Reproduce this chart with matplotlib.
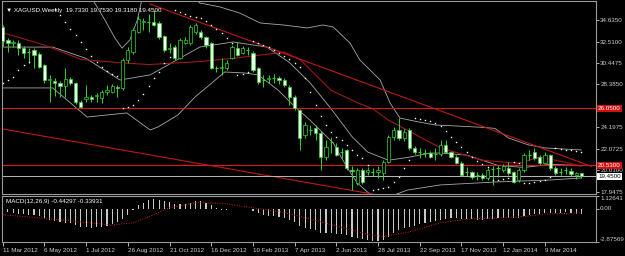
import matplotlib
matplotlib.use('Agg')
import matplotlib.pyplot as plt
import matplotlib.transforms as mtransforms
import numpy as np

# ---------------- data (weekly XAGUSD, bar index 0 = 11 Mar 2012) ----------------
opens = [33.95,32.69,32.35,32.40,31.91,31.50,31.72,31.33,30.26,28.80,
         28.71,28.51,28.22,28.90,28.51,26.66,26.96,27.15,27.20,27.05,
         27.64,27.64,28.12,28.03,30.75,31.52,33.47,34.44,34.50,34.44,
         34.35,33.08,31.80,32.01,30.94,32.40,32.40,33.47,33.47,32.98,
         32.40,29.97,30.00,29.97,30.94,31.91,31.43,31.72,31.43,29.97,
         28.80,28.85,28.95,29.00,28.80,28.12,27.15,25.89,23.46,23.94,
         24.14,23.65,21.32,22.78,22.29,21.80,22.00,20.10,18.79,20.05,
         19.86,19.90,19.90,19.76,20.83,23.26,23.94,23.17,23.94,22.19,
         21.80,21.75,21.71,21.55,21.60,22.49,21.80,21.32,20.74,19.90,
         19.86,19.50,19.57,19.28,20.10,20.20,20.05,20.25,19.86,19.08,
         20.05,21.50,21.80,21.32,20.74,21.51,20.25,19.86,20.00,20.00,
         19.60,19.733]
highs = [34.15,32.90,32.70,32.70,32.10,31.90,31.90,31.50,30.40,29.30,
         29.00,28.70,30.00,29.10,28.60,26.86,28.30,27.30,27.54,27.83,
         28.32,28.40,28.32,30.94,32.00,33.90,35.12,34.83,35.22,35.60,
         34.50,33.20,32.40,32.20,32.90,33.00,34.10,34.35,33.70,33.10,
         32.50,30.16,30.94,30.75,32.20,32.50,32.10,32.00,31.60,30.10,
         29.29,29.30,29.40,29.20,29.00,28.30,27.30,26.00,24.72,24.43,
         24.43,23.80,22.97,23.26,22.68,22.19,22.10,20.44,20.25,20.20,
         20.30,20.25,20.44,21.00,23.46,24.24,25.11,24.00,24.10,22.40,
         22.19,22.10,21.90,22.19,22.97,23.00,21.90,21.50,20.90,20.30,
         20.00,19.86,19.80,20.20,20.40,20.50,20.60,20.80,20.00,20.20,
         21.70,22.00,22.19,21.50,21.80,21.60,20.40,20.20,20.30,20.20,
         19.90,19.753]
lows = [32.10,31.50,32.00,31.20,30.90,30.50,30.00,29.97,28.50,26.70,
        27.20,27.15,27.15,28.30,26.50,26.08,26.66,26.70,26.66,26.57,
        27.35,27.50,27.15,27.83,30.50,31.30,33.37,33.66,33.47,34.05,
        32.80,31.50,31.40,30.75,30.80,32.30,32.20,33.30,32.80,31.90,
        29.90,29.58,29.29,29.80,30.80,31.10,31.30,31.23,29.60,28.40,
        28.12,28.50,28.50,28.40,28.10,26.40,25.89,22.00,23.17,23.46,
        22.97,20.05,21.03,21.71,21.40,21.22,20.05,18.11,18.60,18.69,
        19.60,19.47,19.28,19.08,20.70,22.97,23.00,22.90,22.00,21.60,
        21.22,21.30,21.20,21.03,21.40,21.70,21.20,20.60,19.50,19.50,
        19.20,19.08,19.10,19.10,18.60,19.40,19.90,19.60,18.79,18.90,
        19.90,21.00,21.00,20.50,20.60,20.10,19.60,19.60,19.70,19.50,
        19.20,19.318]
closes = [32.60,32.40,32.45,31.91,31.43,31.55,31.23,30.07,28.80,28.90,
          28.51,28.22,28.90,28.51,26.66,26.18,27.15,26.96,27.30,27.64,
          27.83,28.22,28.03,30.75,31.72,33.66,34.73,34.50,34.45,34.15,
          32.98,31.72,31.95,30.94,32.69,32.69,33.95,34.15,32.98,32.20,
          29.97,30.00,30.07,30.46,32.01,31.23,31.91,31.75,29.78,28.61,
          28.85,28.95,29.00,28.80,28.32,27.15,26.08,23.17,24.43,24.00,
          23.65,21.32,22.29,22.75,21.51,21.75,20.25,20.00,20.05,18.89,
          20.05,19.86,20.05,20.83,23.26,23.94,23.17,23.75,22.19,21.80,
          21.85,21.71,21.32,21.60,22.49,21.80,21.32,20.74,19.57,19.86,
          19.37,19.55,19.28,20.05,20.15,20.25,20.44,19.76,18.89,20.05,
          21.51,21.45,21.22,20.74,21.51,20.25,19.76,19.90,20.05,19.67,
          19.73,19.45]

# parabolic SAR dots (nan = no dot visible)
nan = float('nan')
sar = [28.50,28.80,29.10,29.80,30.26,30.55,nan,nan,nan,nan,
       35.70,35.12,34.44,33.76,33.18,32.50,31.80,31.14,30.55,30.07,
       29.68,29.39,29.19,26.08,26.18,26.37,26.86,27.44,28.22,29.00,
       29.58,30.46,31.00,35.60,35.41,35.22,35.02,34.93,34.83,34.54,
       34.15,33.76,33.37,32.89,32.40,29.29,29.40,29.60,32.60,32.40,
       32.20,32.00,31.70,31.40,31.10,30.80,30.50,30.07,29.00,27.64,
       26.40,25.30,24.40,23.70,23.26,22.97,22.49,22.00,21.50,21.20,
       20.54,18.11,18.20,18.30,18.40,18.90,19.40,20.20,21.00,25.11,
       25.00,24.90,24.80,24.60,24.30,23.80,23.26,22.78,22.29,21.80,
       21.30,20.90,20.60,20.35,19.08,19.10,19.15,19.25,20.80,20.75,
       18.79,18.80,18.85,18.95,19.10,19.35,22.19,22.10,22.00,21.95,
       21.90,21.80]

macd_hist = [-0.25,-0.30,-0.35,-0.40,-0.45,-0.50,-0.55,-0.65,-0.80,-0.95,
             -1.05,-1.15,-1.20,-1.25,-1.40,-1.55,-1.60,-1.62,-1.60,-1.55,
             -1.45,-1.30,-1.15,-0.85,-0.50,-0.10,0.30,0.55,0.75,0.85,
             0.82,0.70,0.60,0.45,0.45,0.45,0.55,0.65,0.65,0.55,
             0.30,0.10,-0.05,-0.10,0.00,0.00,0.00,0.00,-0.15,-0.35,
             -0.50,-0.60,-0.65,-0.70,-0.80,-0.95,-1.15,-1.50,-1.65,-1.75,
             -1.85,-2.05,-2.10,-2.10,-2.15,-2.15,-2.30,-2.45,-2.55,-2.65,
             -2.70,-2.75,-2.75,-2.70,-2.40,-2.05,-1.85,-1.65,-1.55,-1.45,
             -1.35,-1.25,-1.15,-1.05,-0.95,-0.85,-0.80,-0.80,-0.85,-0.90,
             -0.90,-0.95,-0.95,-0.90,-0.85,-0.80,-0.75,-0.75,-0.80,-0.75,
             -0.60,-0.50,-0.45,-0.45,-0.35,-0.35,-0.35,-0.35,-0.30,-0.35,
             -0.40,-0.44297]
signal_x = [0,10,21,25,28,32,37,42,48,54,60,65,70,73,78,84,90,95,100,104,111]
signal_v = [-0.50,-0.90,-1.40,-1.20,-0.70,0.10,0.55,0.50,0.10,-0.30,-1.00,-1.60,
            -2.20,-2.40,-2.00,-1.20,-0.85,-0.80,-0.65,-0.45,-0.33931]

# indicator polylines (bar position, price)
bb_up_x = [0,12,17.3,19.6,21.5,22.9,24.4,25.8,26.7,35,37.8,41.7,45.5,49.4,53.8,58.4,61.4,63.4,66.6,
           68.5,72.4,74.3,76.2,80,83,87,92,94.4,97,100.8,104,107.3,111]
bb_up_v = [38.5,37.8,36.58,34.64,32.9,31.9,32.7,34.6,36.6,37.5,36.29,35.9,35.3,34.34,34.15,33.86,34.15,33.95,32.4,
           30.75,28.8,26.57,25.1,24.7,24.43,24.33,24.2,24.1,23.17,22.5,22.2,22.1,22.0]
bb_mid_x = [0,9.6,16,22.5,28.3,37.8,44.2,50.7,55,59,63,67,70,74,78,82,84,89,95,100,105,111]
bb_mid_v = [32.0,32.0,30.9,28.8,29.3,32.0,32.5,32.0,30.5,28.5,26.0,23.3,21.8,21.0,21.3,21.7,21.7,21.5,20.5,20.3,20.6,20.5]
bb_lo_x = [0,9.6,16.2,23.8,28.3,29.8,33.6,36.9,40.1,42.6,46.5,49,52.8,56.1,58.9,63.4,66,68,72,75,77.6,83.9,95,105,111]
bb_lo_v = [28.03,28.03,25.2,25.6,23.94,24.24,25.4,27.15,28.51,29.58,29.48,29.29,27.83,26.18,24.92,22.68,20.35,
           18.8,17.0,17.6,18.1,18.6,18.9,19.08,19.28]
ma_x = [0,8,15,22,28,38,44,54,57,63,68,71,74,81,84,92,99,103,108,111]
ma_v = [33.4,32.2,30.8,30.5,30.3,30.6,30.9,31.5,30.8,27.8,26.6,26.0,24.9,23.0,22.2,21.0,20.7,21.3,20.8,20.4]

trend_a_x = [-1, 113]          # lower red trend line
trend_a_v = [24.13, 13.96]
trend_b_x = [28.25, 113]       # upper red trend line
trend_b_v = [36.19, 20.39]
hlines_red = [26.05, 20.53]
bid = 19.45

price_ticks = [34.635, 32.51, 30.4475, 28.385, 24.1975, 22.0725, 20.01, 17.9475]
price_labels = ['34.6350', '32.5100', '30.4475', '28.3850', '24.1975', '22.0725', '20.0100', '17.9475']
date_pos = [0, 8, 16, 24, 32, 40, 48, 56, 64, 72, 80, 88, 96, 104]
date_labels = ['11 Mar 2012', '6 May 2012', '1 Jul 2012', '26 Aug 2012', '21 Oct 2012', '16 Dec 2012',
               '10 Feb 2013', '7 Apr 2013', '2 Jun 2013', '28 Jul 2013', '22 Sep 2013', '17 Nov 2013',
               '12 Jan 2014', '9 Mar 2014']
title = 'XAGUSD,Weekly  19.7330 19.7530 19.3180 19.4500'
macd_title = 'MACD(12,26,9) -0.44297 -0.33931'

# ---------------- figure ----------------
W, H = 625, 256
FONT = ['Liberation Sans', 'DejaVu Sans']
FS = 4.5
fig = plt.figure(figsize=(W / 100, H / 100), dpi=100, facecolor='black')

def px_axes(x0, y0, x1, y1):
    return fig.add_axes([x0 / W, 1 - y1 / H, (x1 - x0) / W, (y1 - y0) / H])

ax = px_axes(2, 1, 596, 194)
mx = px_axes(2, 196, 596, 242)
XMIN, XMAX = -0.13, 113.8
for a in (ax, mx):
    a.set_facecolor('black')
    for s in a.spines.values():
        s.set_color('#9a9a9a')
        s.set_linewidth(0.8)
    a.set_xlim(XMIN, XMAX)

n = len(closes)
xs = list(range(n))

# indicators (drawn first, under candles)
ax.plot(bb_up_x, bb_up_v, color='#a8a8a8', lw=0.6)
ax.plot(bb_mid_x, bb_mid_v, color='#a8a8a8', lw=0.6)
ax.plot(bb_lo_x, bb_lo_v, color='#a8a8a8', lw=0.6)
ax.plot(ma_x, ma_v, color='#a01818', lw=0.8)
ax.plot(trend_a_x, trend_a_v, color='#c01818', lw=0.8)
ax.plot(trend_b_x, trend_b_v, color='#c01818', lw=0.8)
for h in hlines_red:
    ax.axhline(h, color='#d81818', lw=0.8)
ax.axhline(bid, color='#b8b8b8', lw=0.7)

# candles
green = '#2fd62f'
ax.vlines(xs, lows, highs, color=green, lw=0.7, zorder=3)
for i in xs:
    o, c = opens[i], closes[i]
    lo, hi = min(o, c), max(o, c)
    if hi - lo < 0.06:
        ax.hlines((o + c) / 2, i - 0.3, i + 0.3, color=green, lw=0.8, zorder=4)
    else:
        face = 'black' if c > o else '#f2fff2'
        ax.bar(i, hi - lo, bottom=lo, width=0.62, color=face, edgecolor=green, linewidth=0.5, zorder=4)

# parabolic SAR
ax.plot(xs, sar, ls='none', marker='s', ms=1.0, mfc='white', mec='none', zorder=5)

ax.set_ylim(17.72, 36.48)
ax.yaxis.tick_right()
ax.set_yticks(price_ticks)
ax.set_yticklabels(price_labels)
ax.tick_params(axis='y', colors='#cfcfcf', labelsize=FS, length=2, width=0.6, pad=1)
ax.set_xticks([])
for t in ax.get_yticklabels():
    t.set_family(FONT)

# red / bid labels on price scale
lab_tr = mtransforms.blended_transform_factory(ax.transAxes, ax.transData)
for h in hlines_red:
    ax.text(1.0035, h, f'{h:.4f}', transform=lab_tr, fontsize=FS, color='white', family=FONT,
            va='center', ha='left', clip_on=False, zorder=10,
            bbox=dict(boxstyle='square,pad=0.15', fc='#d01010', ec='none'))
ax.text(1.0035, bid, f'{bid:.4f}', transform=lab_tr, fontsize=FS, color='black', family=FONT,
        va='center', ha='left', clip_on=False, zorder=10,
        bbox=dict(boxstyle='square,pad=0.15', fc='white', ec='none'))

ax.text(0.006, 0.965, '\u25bc ' + title, transform=ax.transAxes, fontsize=FS, color='white',
        family=FONT, va='top', ha='left', zorder=11)

# MACD panel
mx.bar(xs, macd_hist, width=0.22, color='#c8c8c8', zorder=2)
mx.plot(signal_x, signal_v, color='#d02020', lw=0.7, ls=(0, (1, 1.5)), zorder=3)
mx.set_ylim(-2.87569, 1.12641)
mx.yaxis.tick_right()
mx.set_yticks([1.12641, 0.0, -2.87569])
mx.set_yticklabels(['1.12641', '0.00', '-2.87569'])
mx.tick_params(axis='y', colors='#cfcfcf', labelsize=FS, length=2, width=0.6, pad=1)
for t, va in zip(mx.get_yticklabels(), ['top', 'center', 'bottom']):
    t.set_family(FONT)
    t.set_va(va)
mx.text(0.006, 0.93, macd_title, transform=mx.transAxes, fontsize=FS, color='white',
        family=FONT, va='top', ha='left')

mx.set_xticks(date_pos)
mx.set_xticklabels(date_labels)
mx.tick_params(axis='x', colors='#cfcfcf', labelsize=FS, length=3, width=0.6, pad=1.5)
for t in mx.get_xticklabels():
    t.set_family(FONT)
    t.set_ha('left')

fig.savefig('out.png', dpi=100, facecolor='black')
